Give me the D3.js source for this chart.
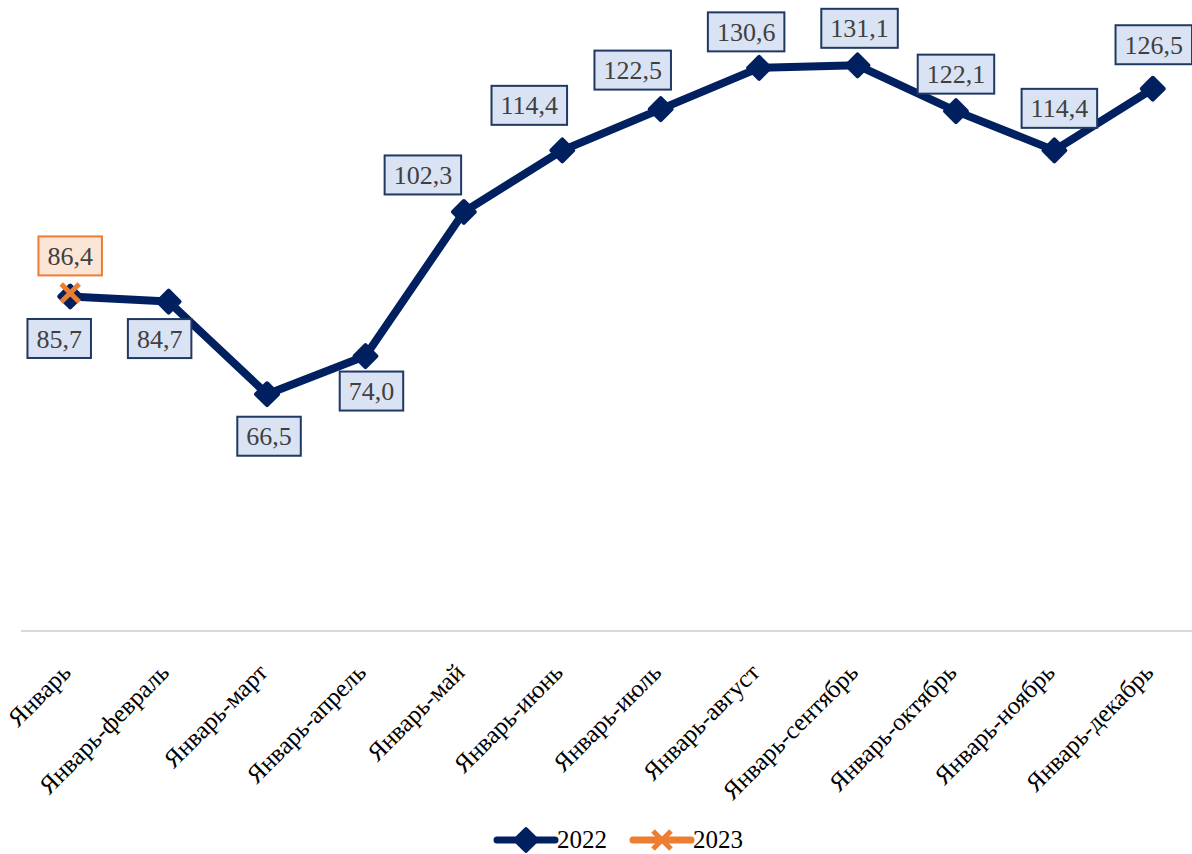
<!DOCTYPE html>
<html>
<head>
<meta charset="utf-8">
<script src="https://cdn.jsdelivr.net/npm/d3@7"></script>
<style>
  body { margin: 0; background: #fff; }
  svg { display: block; font-family: "Liberation Serif", "Times New Roman", serif; }
</style>
</head>
<body>
<svg id="chart" width="1192" height="854"></svg>
<script>
// categories and series
const months = ['Январь', 'Январь-февраль', 'Январь-март', 'Январь-апрель', 'Январь-май', 'Январь-июнь',
  'Январь-июль', 'Январь-август', 'Январь-сентябрь', 'Январь-октябрь', 'Январь-ноябрь', 'Январь-декабрь'];
const values2022 = [85.7, 84.7, 66.5, 74.0, 102.3, 114.4, 122.5, 130.6, 131.1, 122.1, 114.4, 126.5];
const values2023 = [86.4];
const seriesNames = ['2022', '2023'];

// where each data label box sits relative to its point (layout, not data)
const labelShift2022 = [[-11, 42], [-9, 37], [2, 42], [6, 35], [-41, -37], [-33, -45],
  [-28, -39], [-13, -36], [2, -37], [0, -37], [5, -42], [1, -44]];
const labelShift2023 = [[0, -37]];

const navy = '#002060';
const orange = '#ed7d31';

const svg = d3.select('#chart');
const W = 1192;

const x = d3.scaleBand()
    .domain(months)
    .range([21, 1202]);
const y = d3.scaleLinear()
    .domain([20, 140])
    .range([631, 20]);

const cx = d => x(d) + x.bandwidth() / 2;
const fmt = v => d3.format('.1f')(v).replace('.', ',');

// axis baseline
svg.append('line')
  .attr('x1', 21).attr('x2', W)
  .attr('y1', y(20)).attr('y2', y(20))
  .attr('stroke', '#d9d9d9')
  .attr('stroke-width', 2);

// category labels
svg.append('g')
  .selectAll('text')
  .data(months)
  .enter().append('text')
    .attr('transform', d => `translate(${cx(d) + 2},${y(20) + 43}) rotate(-45)`)
    .attr('text-anchor', 'end')
    .attr('font-size', 25)
    .attr('fill', '#000')
    .text(d => d);

const diamond = d3.symbol().type(d3.symbolSquare).size(240);
const cross = 'M-9,-9L9,9M-9,9L9,-9';

const pts2022 = values2022.map((v, i) => ({m: months[i], v: v, s: labelShift2022[i]}));
const pts2023 = values2023.map((v, i) => ({m: months[i], v: v, s: labelShift2023[i]}));

const line = d3.line().x(d => cx(d.m)).y(d => y(d.v));

// 2022 line
svg.append('path')
  .datum(pts2022)
  .attr('d', line)
  .attr('fill', 'none')
  .attr('stroke', navy)
  .attr('stroke-width', 8)
  .attr('stroke-linejoin', 'round');

svg.append('g')
  .selectAll('path')
  .data(pts2022)
  .enter().append('path')
    .attr('d', diamond)
    .attr('transform', d => `translate(${cx(d.m)},${y(d.v)}) rotate(45)`)
    .attr('fill', navy)
    .attr('stroke', navy)
    .attr('stroke-width', 4)
    .attr('stroke-linejoin', 'round');

// 2023 marker
svg.append('g')
  .selectAll('path')
  .data(pts2023)
  .enter().append('path')
    .attr('d', cross)
    .attr('transform', d => `translate(${cx(d.m)},${y(d.v)})`)
    .attr('fill', 'none')
    .attr('stroke', orange)
    .attr('stroke-width', 5);

// data labels in boxes
function addLabels(pts, fill, stroke) {
  const g = svg.append('g')
    .selectAll('g')
    .data(pts)
    .enter().append('g')
      .attr('transform', d => `translate(${cx(d.m) + d.s[0]},${y(d.v) + d.s[1]})`);

  g.append('rect')
    .attr('fill', fill)
    .attr('stroke', stroke)
    .attr('stroke-width', 2);

  const texts = g.append('text')
    .attr('text-anchor', 'middle')
    .attr('dy', '0.35em')
    .attr('font-size', 26)
    .attr('fill', '#404040')
    .text(d => fmt(d.v));

  texts.each(function() {
    const w = this.getComputedTextLength() + 18;
    d3.select(this.parentNode).select('rect')
      .attr('x', -w / 2).attr('y', -19.5)
      .attr('width', w).attr('height', 39);
  });
}
addLabels(pts2022, '#dae3f3', '#203864');
addLabels(pts2023, '#fbe5d6', orange);

// legend
const legend = svg.append('g').attr('transform', 'translate(0,840)');
const items = [
  {name: seriesNames[0], x0: 497, color: navy, mark: 'diamond'},
  {name: seriesNames[1], x0: 633, color: orange, mark: 'cross'}
];
items.forEach(it => {
  legend.append('line')
    .attr('x1', it.x0).attr('x2', it.x0 + 58)
    .attr('y1', 0).attr('y2', 0)
    .attr('stroke', it.color)
    .attr('stroke-width', 7)
    .attr('stroke-linecap', 'round');
  if (it.mark === 'diamond') {
    legend.append('path')
      .attr('d', diamond)
      .attr('transform', `translate(${it.x0 + 29},0) rotate(45)`)
      .attr('fill', it.color)
      .attr('stroke', it.color)
      .attr('stroke-width', 4)
      .attr('stroke-linejoin', 'round');
  } else {
    legend.append('path')
      .attr('d', cross)
      .attr('transform', `translate(${it.x0 + 29},0)`)
      .attr('fill', 'none')
      .attr('stroke', it.color)
      .attr('stroke-width', 5);
  }
  legend.append('text')
    .attr('x', it.x0 + 60)
    .attr('dy', '0.33em')
    .attr('font-size', 25)
    .attr('fill', '#000')
    .text(it.name);
});
</script>
</body>
</html>
